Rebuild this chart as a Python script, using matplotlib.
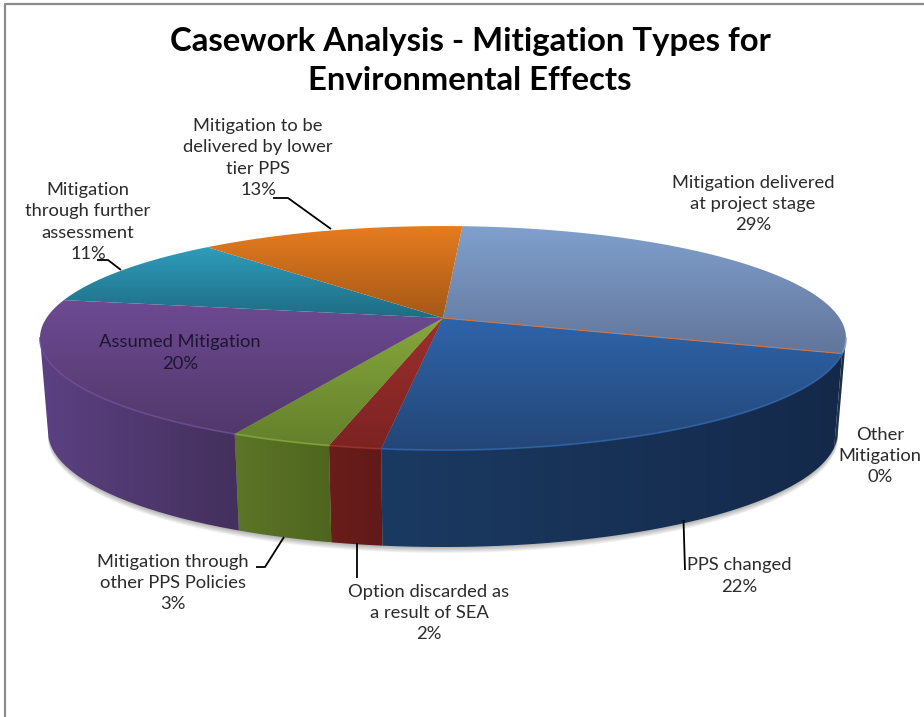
#!/usr/bin/env python3
# Casework analysis - 3D style pie chart, drawn on a pixel sized axes
import numpy as np
import matplotlib
matplotlib.use('Agg')
import matplotlib.pyplot as plt
from matplotlib.patches import PathPatch, Polygon
from matplotlib.path import Path
from matplotlib.colors import LinearSegmentedColormap

plt.rcParams['font.family'] = ['Lato', 'DejaVu Sans']

# Data, clockwise from the start of the first slice (labels are rounded)
categories = ['Mitigation delivered\nat project stage', 'Other\nMitigation', 'PPS changed',
              'Option discarded as\na result of SEA', 'Mitigation through\nother PPS Policies',
              'Assumed Mitigation', 'Mitigation\nthrough further\nassessment',
              'Mitigation to be\ndelivered by lower\ntier PPS']
values = [29.1, 0, 22.03, 1.77, 3.45, 20.45, 10.53, 12.67]

top_light = ['#80a0cd', '#c87850', '#2f64aa', '#9c302d', '#86a83b', '#6d4a92', '#2f9cba', '#e57c20']
top_dark = ['#62759a', '#c87850', '#234676', '#7c2322', '#64802c', '#51386b', '#1f6c84', '#a55817']
side_left = ['#25344f', '#3a2a30', '#1b3a62', '#6a1d1b', '#5c7527', '#5b4182', '#1f6c84', '#a55817']
side_right = ['#1a2b45', '#3a2a30', '#14294a', '#601a18', '#4f651f', '#43305c', '#1f6c84', '#a55817']

# Where the label text sits (centre x, centre y) in pixels
label_pos = [(753, 204), (880, 456), (739, 576), (429, 613), (173, 583), (180, 353), (88, 222), (258, 158)]

# Leader lines in pixels
leaders = [[(273, 198), (288, 198), (331, 229)],
           [(97, 260), (108, 260), (121, 270)],
           [(256, 567), (265, 567), (284, 537)],
           [(356.5, 543), (356.5, 578)],
           [(683.5, 520), (685, 570)]]

# Perspective of the disc
cx, cy = 443, 318
R, H, k = 396.5, 108.4, 0.179
start = 3.3
thick = 93


def rim(t_deg):
    t = np.radians(t_deg)
    u, v = np.sin(t), np.cos(t)
    w = 1 + k * v
    return cx + R * u / w, cy - H * v / w


def rim_low(t_deg):
    x, y = rim(t_deg)
    # bottom of the disc is a bit narrower than the top
    return cx + (x - cx) * 0.98, y + thick - 4 * np.cos(np.radians(t_deg))


def gradient(ax, path, c1, c2, vertical=True):
    cmap = LinearSegmentedColormap.from_list('g', [c1, c2])
    x0, y0 = path.vertices.min(axis=0)
    x1, y1 = path.vertices.max(axis=0)
    g = np.linspace(0, 1, 128)
    g = g[:, None] if vertical else g[None, :]
    im = ax.imshow(g, cmap=cmap, vmin=0, vmax=1, extent=(x0, x1, y1, y0), aspect='auto',
                   interpolation='bilinear', zorder=3)
    patch = PathPatch(path, transform=ax.transData, fc='none', ec='none')
    ax.add_patch(patch)
    im.set_clip_path(patch)


fig = plt.figure(figsize=(9.24, 7.17), dpi=100, facecolor='white')
ax = fig.add_axes([0, 0, 1, 1])
ax.set_xlim(0, 924)
ax.set_ylim(717, 0)
ax.axis('off')

# chart border
ax.plot([5, 5, 924], [717, 4, 4], color='#8c8c8c', lw=1.6, zorder=1)

# slice angles come from the values
edges = start + np.cumsum([0] + values) * 3.6
vis_right = np.degrees(np.arccos(-k))
vis_left = 360 - vis_right

# soft shadow under the disc
ts = np.linspace(vis_right, vis_left, 200)
low = np.array([rim_low(t) for t in ts])
for i in range(1, 7):
    ax.add_patch(Polygon(np.vstack([low + [0, i], [[cx, cy]]]), fc='black', ec='none',
                         alpha=0.05, zorder=2))

for i, val in enumerate(values):
    a, b = edges[i], edges[i + 1]

    # wall, only the part facing us
    wa, wb = max(a, vis_right), min(b, vis_left)
    if wb > wa:
        ts = np.linspace(wa, wb, 80)
        upper = np.array([rim(t) for t in ts])
        lower = np.array([rim_low(t) for t in ts])[::-1]
        verts = np.vstack([upper, lower, upper[:1]])
        gradient(ax, Path(verts), side_left[i], side_right[i], vertical=False)

    # top face
    if val > 0:
        ts = np.linspace(a, b, 120)
        arc = np.array([rim(t) for t in ts])
        verts = np.vstack([[[cx, cy]], arc, [[cx, cy]]])
        gradient(ax, Path(verts), top_light[i], top_dark[i])
    else:
        x, y = rim(a)
        ax.plot([cx, x], [cy, y], color=top_light[i], lw=0.8, zorder=4)

    # light bevel along the front rim
    if wb > wa and val > 0:
        ts = np.linspace(wa, wb, 80)
        upper = np.array([rim(t) for t in ts])
        ax.plot(upper[:, 0], upper[:, 1], color=top_light[i], lw=1.3, alpha=0.8, zorder=4)

for pts in leaders:
    xs, ys = zip(*pts)
    ax.plot(xs, ys, color='black', lw=1.3, zorder=5, solid_capstyle='butt')

for i, (name, val) in enumerate(zip(categories, values)):
    color = '#1e1530' if name == 'Assumed Mitigation' else '#2b2b2b'
    ax.text(label_pos[i][0], label_pos[i][1], f'{name}\n{val:.0f}%', ha='center', va='center',
            ma='center', fontsize=13.2, color=color, linespacing=1.42, zorder=6)

ax.text(470, 41, 'Casework Analysis - Mitigation Types for', ha='center', va='center',
        fontsize=23.7, fontweight='bold', color='black', zorder=6)
ax.text(470, 81, 'Environmental Effects', ha='center', va='center',
        fontsize=23.7, fontweight='bold', color='black', zorder=6)

ax.set_xlim(0, 924)
ax.set_ylim(717, 0)
fig.savefig('out.png', dpi=100, facecolor='white')
